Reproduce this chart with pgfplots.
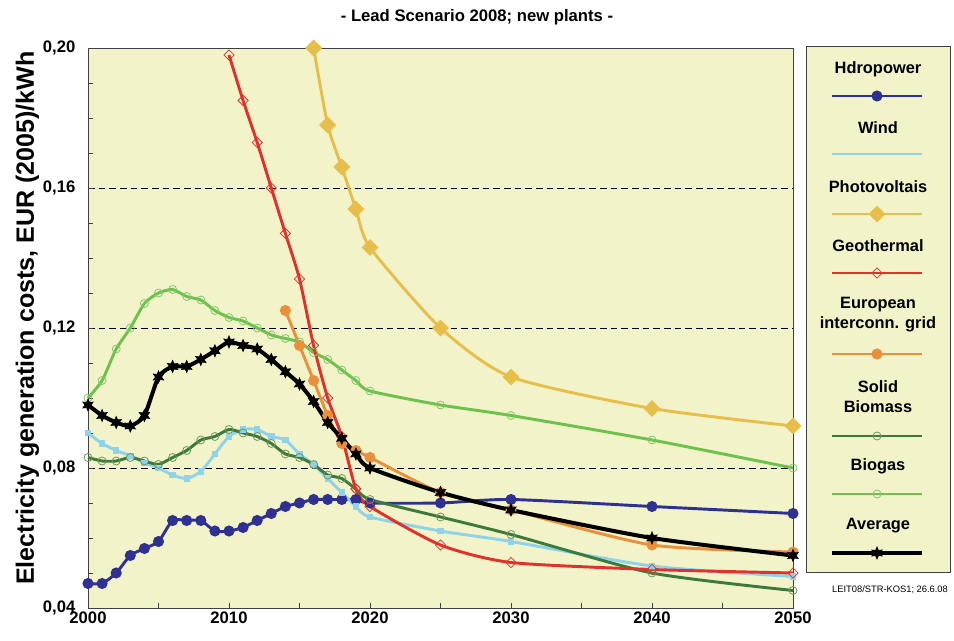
\documentclass[border=0pt]{standalone}
\usepackage{pgfplots}
\pgfplotsset{compat=1.18}
\usepackage{fontspec}
\setmainfont{Liberation Sans}
\definecolor{bgy}{RGB}{243,243,201}
\definecolor{chydro}{RGB}{46,49,146}
\definecolor{cwind}{RGB}{142,211,234}
\definecolor{cpv}{RGB}{232,190,74}
\definecolor{cgeo}{RGB}{226,49,42}
\definecolor{cgrid}{RGB}{232,145,58}
\definecolor{csolid}{RGB}{60,122,58}
\definecolor{csolidm}{RGB}{110,150,100}
\definecolor{cbiogas}{RGB}{108,194,74}
\definecolor{cbiogasm}{RGB}{130,200,110}
\pgfdeclareplotmark{fstar}{%
  \pgfpathmoveto{\pgfpointpolar{90}{\pgfplotmarksize}}%
  \pgfpathlineto{\pgfpointpolar{120}{0.5\pgfplotmarksize}}%
  \pgfpathlineto{\pgfpointpolar{150}{\pgfplotmarksize}}%
  \pgfpathlineto{\pgfpointpolar{180}{0.5\pgfplotmarksize}}%
  \pgfpathlineto{\pgfpointpolar{210}{\pgfplotmarksize}}%
  \pgfpathlineto{\pgfpointpolar{240}{0.5\pgfplotmarksize}}%
  \pgfpathlineto{\pgfpointpolar{270}{\pgfplotmarksize}}%
  \pgfpathlineto{\pgfpointpolar{300}{0.5\pgfplotmarksize}}%
  \pgfpathlineto{\pgfpointpolar{330}{\pgfplotmarksize}}%
  \pgfpathlineto{\pgfpointpolar{0}{0.5\pgfplotmarksize}}%
  \pgfpathlineto{\pgfpointpolar{30}{\pgfplotmarksize}}%
  \pgfpathlineto{\pgfpointpolar{60}{0.5\pgfplotmarksize}}%
  \pgfpathclose
  \pgfusepathqfillstroke}
\begin{document}
\begin{tikzpicture}[x=1pt,y=1pt]
\useasboundingbox (0,0) rectangle (715.5,480.75);
\begin{axis}[
  at={(66pt,24.75pt)}, anchor=south west,
  scale only axis, width=528.75pt, height=420pt,
  xmin=2000, xmax=2050, ymin=0.04, ymax=0.20,
  axis background/.style={fill=bgy},
  axis line style={black!75, line width=0.7pt},
  clip=false,
  tick pos=left, tick align=inside,
  major tick length=3.75pt, minor tick length=3.75pt,
  tick style={black!75, line width=0.6pt},
  xtick={2000,2010,2020,2030,2040,2050},
  minor xtick={2005,2015,2025,2035,2045},
  ytick={0.04,0.08,0.12,0.16,0.20},
  minor ytick={0.05,0.06,0.07,0.09,0.10,0.11,0.13,0.14,0.15,0.17,0.18,0.19},
  ymajorgrids,
  major grid style={black, line width=0.6pt, dash pattern=on 5pt off 3pt},
  tick label style={font=\bfseries\fontsize{12.5}{14}\selectfont},
  x tick label style={/pgf/number format/1000 sep={}, yshift=1pt},
  y tick label style={xshift=-6pt, /pgf/number format/fixed, /pgf/number format/fixed zerofill, /pgf/number format/precision=2, /pgf/number format/use comma},
  /pgf/number format/assume math mode=true,
  every axis plot/.append style={line width=2.2pt, smooth, tension=0.4},
]
% Hydropower
\addplot[chydro, mark=*, mark size=3pt] coordinates {
(2000,0.047)(2001,0.047)(2002,0.050)(2003,0.055)(2004,0.057)(2005,0.059)(2006,0.065)(2007,0.065)(2008,0.065)(2009,0.062)(2010,0.062)(2011,0.063)(2012,0.065)(2013,0.067)(2014,0.069)(2015,0.070)(2016,0.071)(2017,0.071)(2018,0.071)(2019,0.071)(2020,0.070)(2025,0.070)(2030,0.071)(2040,0.069)(2050,0.067)};
% Wind
\addplot[cwind, mark=square*, mark size=1.3pt] coordinates {
(2000,0.090)(2001,0.087)(2002,0.085)(2003,0.0835)(2004,0.0815)(2005,0.080)(2006,0.078)(2007,0.077)(2008,0.079)(2009,0.084)(2010,0.089)(2011,0.091)(2012,0.091)(2013,0.089)(2014,0.088)(2015,0.084)(2016,0.081)(2017,0.077)(2018,0.073)(2019,0.069)(2020,0.066)(2025,0.062)(2030,0.059)(2040,0.052)(2050,0.049)};
% Solid biomass
\addplot[csolid, mark=o, mark size=3pt, mark options={draw=csolidm, line width=0.6pt}] coordinates {
(2000,0.083)(2001,0.082)(2002,0.082)(2003,0.083)(2004,0.082)(2005,0.081)(2006,0.083)(2007,0.085)(2008,0.088)(2009,0.089)(2010,0.091)(2011,0.090)(2012,0.089)(2013,0.087)(2014,0.084)(2015,0.083)(2016,0.081)(2017,0.078)(2018,0.077)(2019,0.074)(2020,0.071)(2025,0.066)(2030,0.061)(2040,0.050)(2050,0.045)};
% Biogas
\addplot[cbiogas, mark=o, mark size=3pt, mark options={draw=cbiogasm, line width=0.6pt}] coordinates {
(2000,0.100)(2001,0.105)(2002,0.114)(2003,0.120)(2004,0.127)(2005,0.130)(2006,0.131)(2007,0.129)(2008,0.128)(2009,0.125)(2010,0.123)(2011,0.122)(2012,0.120)(2013,0.118)(2014,0.117)(2015,0.116)(2016,0.113)(2017,0.111)(2018,0.108)(2019,0.105)(2020,0.102)(2025,0.098)(2030,0.095)(2040,0.088)(2050,0.080)};
% Photovoltaics
\addplot[cpv, mark=square*, mark size=3.4pt, mark options={rotate=45}] coordinates {
(2016,0.200)(2017,0.178)(2018,0.166)(2019,0.154)(2020,0.143)(2025,0.120)(2030,0.106)(2040,0.097)(2050,0.092)};
% Geothermal
\addplot[cgeo, mark=square, mark size=2.7pt, mark options={rotate=45, line width=0.6pt, fill=none}] coordinates {
(2010,0.198)(2011,0.185)(2012,0.173)(2013,0.160)(2014,0.147)(2015,0.134)(2016,0.115)(2017,0.100)(2018,0.089)(2019,0.074)(2020,0.069)(2025,0.058)(2030,0.053)(2040,0.051)(2050,0.050)};
% European interconnection grid
\addplot[cgrid, mark=*, mark size=3pt] coordinates {
(2014,0.125)(2015,0.115)(2016,0.105)(2017,0.095)(2018,0.087)(2019,0.085)(2020,0.083)(2025,0.073)(2030,0.068)(2040,0.058)(2050,0.056)};
% Average
\addplot[black, line width=3pt, mark=fstar, mark size=4.5pt, mark options={line width=0.5pt}] coordinates {
(2000,0.098)(2001,0.095)(2002,0.093)(2003,0.092)(2004,0.095)(2005,0.106)(2006,0.109)(2007,0.109)(2008,0.111)(2009,0.1135)(2010,0.116)(2011,0.115)(2012,0.114)(2013,0.111)(2014,0.1075)(2015,0.104)(2016,0.099)(2017,0.093)(2018,0.0885)(2019,0.084)(2020,0.080)(2025,0.073)(2030,0.068)(2040,0.060)(2050,0.055)};
\end{axis}
% Legend box
\begin{axis}[
  at={(604.5pt,51.75pt)}, anchor=south west,
  scale only axis, width=108pt, height=394.5pt,
  xmin=806, xmax=950, ymin=46, ymax=572, y dir=reverse,
  axis background/.style={fill=bgy},
  axis line style={black!75, line width=0.7pt},
  xtick=\empty, ytick=\empty, clip=false,
  every axis plot/.append style={line width=2.2pt},
  nodes={font=\bfseries\fontsize{12.3}{16}\selectfont, align=center},
]
\addplot[chydro, mark=*, mark size=3pt, mark indices={2}] coordinates {(832,96)(877,96)(922,96)};
\node at (axis cs:878,69) {Hdropower};
\addplot[cwind, mark=none] coordinates {(832,154)(877,154)(922,154)};
\node at (axis cs:878,128) {Wind};
\addplot[cpv, mark=square*, mark size=3.4pt, mark options={rotate=45}, mark indices={2}] coordinates {(832,214)(877,214)(922,214)};
\node at (axis cs:878,187) {Photovoltais};
\addplot[cgeo, mark=square, mark size=2.7pt, mark options={rotate=45, line width=0.6pt, fill=bgy}, mark indices={2}] coordinates {(832,273)(877,273)(922,273)};
\node at (axis cs:878,246) {Geothermal};
\addplot[cgrid, mark=*, mark size=3pt, mark indices={2}] coordinates {(832,354)(877,354)(922,354)};
\node at (axis cs:878,315) {European\\[-1pt]interconn. grid};
\addplot[csolid, mark=o, mark size=3pt, mark options={draw=csolidm, line width=0.6pt}, mark indices={2}] coordinates {(832,436)(877,436)(922,436)};
\node at (axis cs:878,397) {Solid\\[-1pt]Biomass};
\addplot[cbiogas, mark=o, mark size=3pt, mark options={draw=cbiogasm, line width=0.6pt}, mark indices={2}] coordinates {(832,494)(877,494)(922,494)};
\node at (axis cs:878,466) {Biogas};
\addplot[black, line width=3pt, mark=fstar, mark size=4.5pt, mark options={line width=0.5pt}, mark indices={2}] coordinates {(832,553)(877,553)(922,553)};
\node at (axis cs:878,526) {Average};
\end{axis}
\node[font=\bfseries\fontsize{12.5}{14}\selectfont] at (357.75,467.5) {- Lead Scenario 2008; new plants -};
\node[font=\fontsize{7}{8}\selectfont] at (667.5,38.25) {LEIT08/STR-KOS1; 26.6.08};
\node[rotate=90, font=\bfseries\fontsize{18.8}{22}\selectfont] at (20.5,242.25) {Electricity generation costs, EUR (2005)/kWh};
\end{tikzpicture}
\end{document}
